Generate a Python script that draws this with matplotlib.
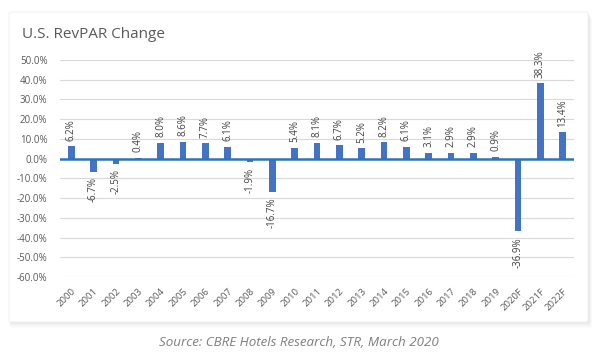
import matplotlib
matplotlib.use("Agg")
import matplotlib.pyplot as plt
from matplotlib.patches import FancyBboxPatch
import numpy as np

categories = ["2000", "2001", "2002", "2003", "2004", "2005", "2006", "2007", "2008", "2009",
              "2010", "2011", "2012", "2013", "2014", "2015", "2016", "2017", "2018", "2019",
              "2020F", "2021F", "2022F"]
values = [6.2, -6.7, -2.5, 0.4, 8.0, 8.6, 7.7, 6.1, -1.9, -16.7,
          5.4, 8.1, 6.7, 5.2, 8.2, 6.1, 3.1, 2.9, 2.9, 0.9,
          -36.9, 38.3, 13.4]
yticks = [50, 40, 30, 20, 10, 0, -10, -20, -30, -40, -50, -60]

plt.rcParams['font.family'] = ['Open Sans', 'DejaVu Sans']

W, H = 609, 363
fig = plt.figure(figsize=(W / 100, H / 100), dpi=100)
fig.patch.set_facecolor("white")

# card shadow + card
for i, a in enumerate([0.012, 0.018, 0.025, 0.035]):
    off = (4 - i) * 1.6
    sh = FancyBboxPatch((9 / W + 1.0 / W, 1 - 322 / H - off / H), 579 / W + off / W * 0.5, 310 / H,
                        boxstyle="round,pad=0,rounding_size=0.004", transform=fig.transFigure,
                        facecolor="black", edgecolor="none", alpha=a, zorder=0)
    fig.patches.append(sh)
card = FancyBboxPatch((9 / W, 1 - 322 / H), 579 / W, 310 / H,
                      boxstyle="round,pad=0,rounding_size=0.004", transform=fig.transFigure,
                      facecolor="white", edgecolor="#efefef", linewidth=0.6, zorder=1)
fig.patches.append(card)

ax = fig.add_axes([60 / W, 1 - 277 / H, 514 / W, 217 / H])
ax.set_facecolor("none")
ax.set_zorder(2)

x = np.arange(len(categories))
ax.bar(x, values, width=0.3, color="#4472C4", zorder=3)
ax.axhline(0, color="#2E75B6", linewidth=1.8, zorder=4)

for xi, v in zip(x, values):
    if v >= 0:
        ax.annotate(f"{v:.1f}%", (xi, v), xytext=(0, 4), textcoords="offset points",
                    rotation=90, ha="center", va="bottom", fontsize=7, color="#404040",
                    annotation_clip=False, zorder=5)
    else:
        ax.annotate(f"{v:.1f}%", (xi, v), xytext=(0, -4), textcoords="offset points",
                    rotation=90, ha="center", va="top", fontsize=7, color="#404040",
                    annotation_clip=False, zorder=5)

ax.set_xlim(-0.5, len(categories) - 0.5)
ax.set_ylim(-60, 50)
ax.set_yticks(yticks)
ax.set_yticklabels([f"{t:.1f}%" for t in yticks], fontsize=7, color="#595959")
ax.yaxis.grid(True, color="#D9D9D9", linewidth=0.8, zorder=0)
ax.set_axisbelow(True)
ax.set_xticks(x)
ax.set_xticklabels(categories, rotation=45, ha="right", rotation_mode="anchor",
                   fontsize=6.8, color="#595959")
ax.tick_params(axis="both", length=0)
ax.tick_params(axis="y", pad=9)
ax.tick_params(axis="x", pad=7)
for s in ax.spines.values():
    s.set_visible(False)

fig.text(22 / W, 1 - 34 / H, "U.S. RevPAR Change", fontsize=11, color="#595959",
         ha="left", va="center", zorder=5)
fig.text(299 / W, 1 - 343 / H, "Source: CBRE Hotels Research, STR, March 2020", fontsize=9.6,
         style="italic", color="#7f7f7f", ha="center", va="center")

fig.savefig("out.png", dpi=100)
